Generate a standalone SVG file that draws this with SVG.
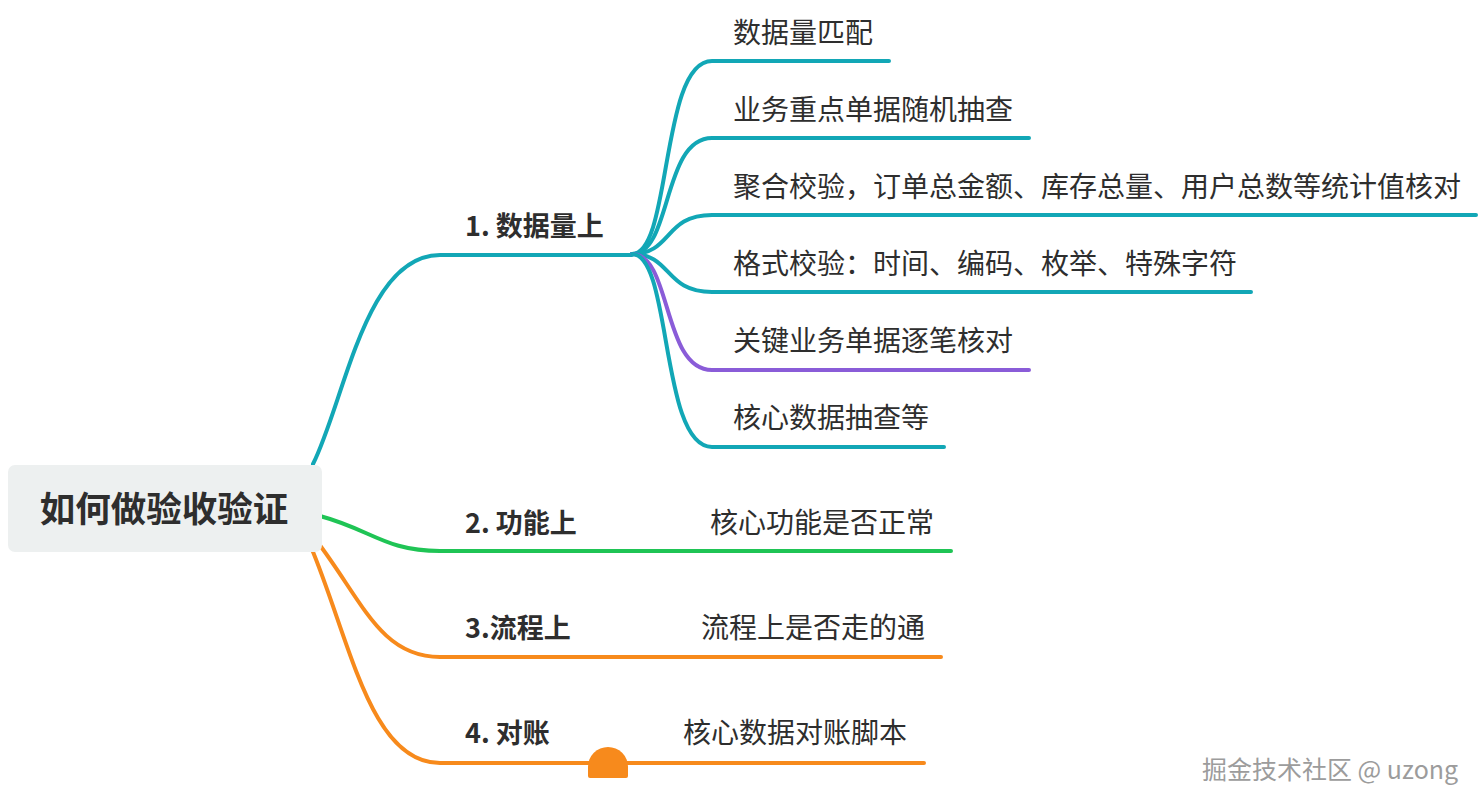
<svg xmlns="http://www.w3.org/2000/svg" width="1482" height="806" viewBox="0 0 1482 806">
<style>
.t{font-family:"Noto Sans CJK SC","Noto Sans",sans-serif;fill:#2e2e2e;font-size:28px}
.b{font-family:"Noto Sans CJK SC","Noto Sans",sans-serif;fill:#2e2e2e;font-size:27px;font-weight:bold}
.c{fill:none;stroke-width:4;stroke-linecap:round;stroke-linejoin:round}
.teal{stroke:#12a7b6}.purple{stroke:#8a5cd8}.green{stroke:#1fc455}.orange{stroke:#f78a1c}
.wm{font-family:"Noto Sans CJK SC","Noto Sans",sans-serif;font-size:25px;fill:#9c9c9c}
</style>
<rect width="1482" height="806" fill="#ffffff"/>
<g id="connectors">
<path class="c teal" d="M313,464 C345,400 365,255 440,255 H632"/>
<path class="c green" d="M320,516 C372,530 385,551 440,551 H951"/>
<path class="c orange" d="M316,540 C362,600 380,657 440,657 H941"/>
<path class="c orange" d="M311,547 C350,640 370,763 440,763 H924"/>
<path class="c teal" d="M632,254 C672,254 660,61 712,61 H889"/>
<path class="c teal" d="M632,254 C672,254 662,138 712,138 H1029"/>
<path class="c teal" d="M632,254 C672,254 664,215 712,215 H1476"/>
<path class="c teal" d="M632,254 C672,254 664,292 712,292 H1251"/>
<path class="c purple" d="M632,254 C672,254 662,370 712,370 H1029"/>
<path class="c teal" d="M632,254 C672,254 660,447 712,447 H944"/>
<path d="M588,776 V767 A20,20 0 0 1 628,767 V776 Q628,778 626,778 H590 Q588,778 588,776 Z" fill="#f78a1c"/>
</g>
<g id="root">
<rect x="8" y="465" width="314" height="87" rx="7" fill="#edf0f0"/>
<text x="164" y="522" text-anchor="middle" class="b" style="font-size:35.5px">如何做验收验证</text>
</g>
<g id="b1"><text x="465" y="236" class="b">1. 数据量上</text></g>
<g id="b1c1"><text x="733" y="43" class="t">数据量匹配</text></g>
<g id="b1c2"><text x="733" y="120" class="t">业务重点单据随机抽查</text></g>
<g id="b1c3"><text x="733" y="197" class="t">聚合校验，订单总金额、库存总量、用户总数等统计值核对</text></g>
<g id="b1c4"><text x="733" y="274" class="t">格式校验：时间、编码、枚举、特殊字符</text></g>
<g id="b1c5"><text x="733" y="351" class="t">关键业务单据逐笔核对</text></g>
<g id="b1c6"><text x="733" y="428" class="t">核心数据抽查等</text></g>
<g id="b2"><text x="465" y="533" class="b">2. 功能上</text></g>
<g id="b2c1"><text x="710" y="533" class="t">核心功能是否正常</text></g>
<g id="b3"><text x="465" y="638" class="b">3.流程上</text></g>
<g id="b3c1"><text x="701" y="638" class="t">流程上是否走的通</text></g>
<g id="b4"><text x="465" y="743" class="b">4. 对账</text></g>
<g id="b4c1"><text x="683" y="743" class="t">核心数据对账脚本</text></g>
<text x="1202" y="779" class="wm">掘金技术社区 @ uzong</text>
</svg>
